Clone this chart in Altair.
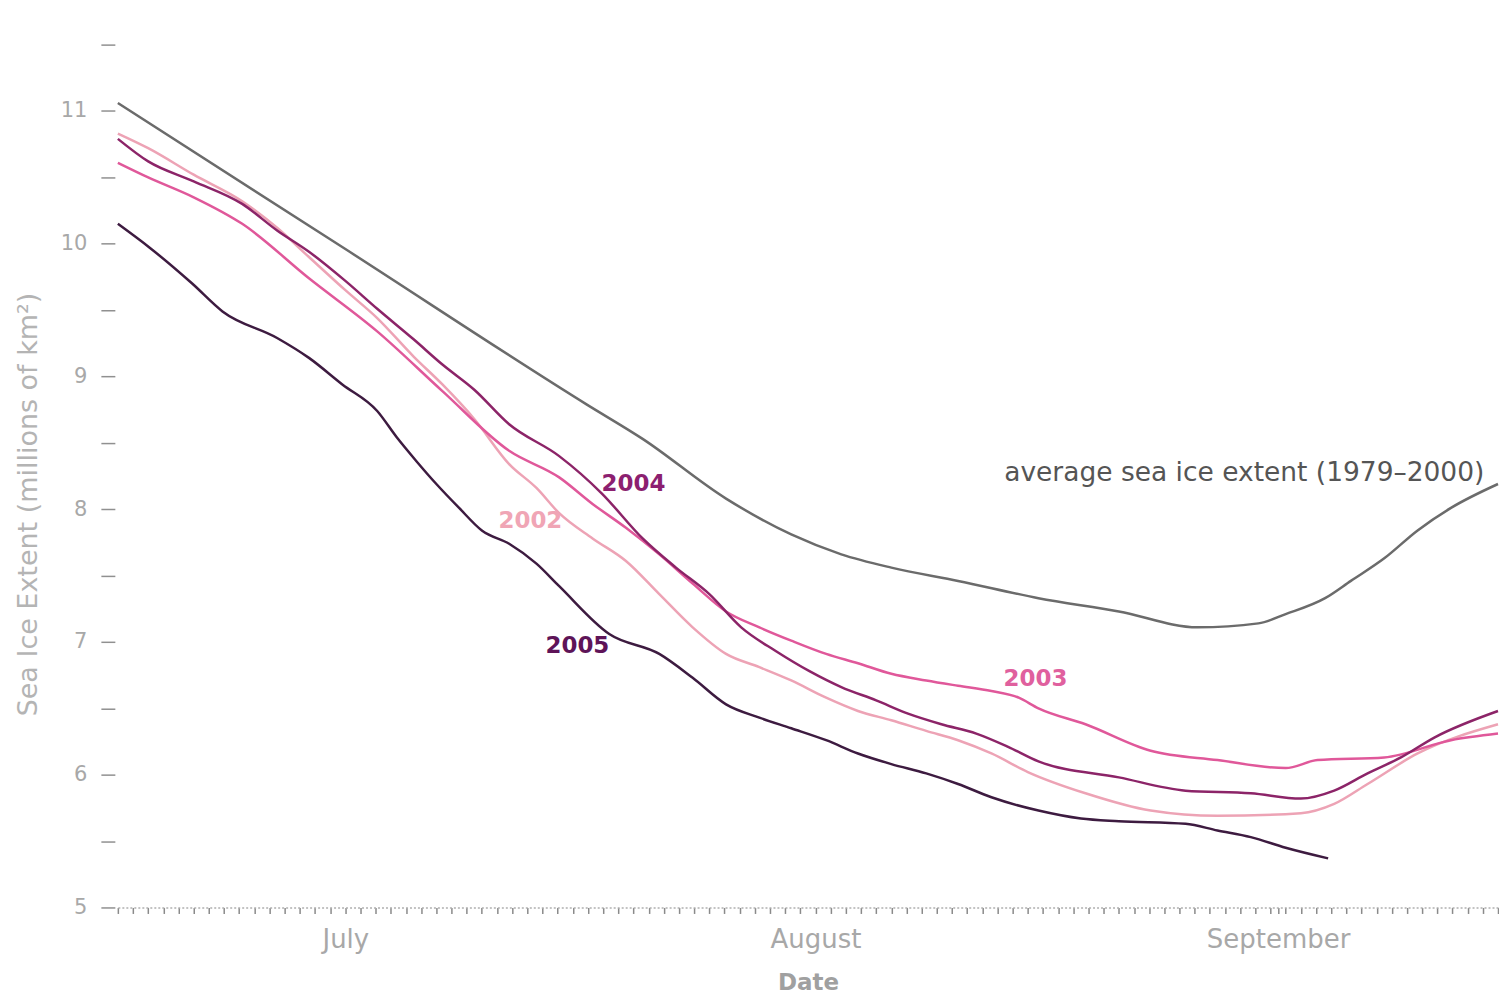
import altair as alt
import pandas as pd

# ---- data (day 0 = July 1, values in millions of km^2) ----
avg_days = [0, 15, 30.9, 34.6, 40.1, 44.4, 47.7, 51.0, 55.4, 60.7, 66.0, 71.2, 75.2, 77.0, 79.6, 81.3, 83.5, 85.7, 87.9, 91]
avg_vals = [11.06, 9.96, 8.79, 8.53, 8.08, 7.81, 7.66, 7.56, 7.46, 7.33, 7.23, 7.11, 7.14, 7.21, 7.33, 7.46, 7.63, 7.84, 8.01, 8.19]

y2002_days = [0, 2, 5, 8.2, 10.5, 12.6, 15, 17.1, 19.5, 21.4, 23.5, 25.8, 27.6, 29.1, 31.3, 33.5, 35.7, 37.9, 40.1, 42.3,
              44.4, 46.7, 48.8, 51.0, 53.3, 55.4, 57.6, 60.0, 63.8, 68.1, 72.5, 78.0, 80.2, 82.4, 85.7, 91]
y2002_vals = [10.83, 10.72, 10.52, 10.32, 10.12, 9.90, 9.65, 9.44, 9.15, 8.94, 8.68, 8.34, 8.16, 7.97, 7.78, 7.61, 7.36, 7.11, 6.91, 6.81,
              6.71, 6.58, 6.48, 6.41, 6.33, 6.26, 6.16, 6.02, 5.86, 5.73, 5.69, 5.71, 5.78, 5.93, 6.16, 6.38]

y2003_days = [0, 2, 5, 8.2, 12.6, 17.1, 21.4, 25.8, 29.1, 31.3, 33.5, 35.7, 37.9, 40.1, 42.3, 44.4, 46.7, 48.8, 51.0, 53.3,
              55.4, 57.6, 59.4, 60.7, 63.8, 68.1, 72.5, 77.0, 79.1, 83.5, 87.9, 91]
y2003_vals = [10.61, 10.50, 10.35, 10.15, 9.74, 9.34, 8.89, 8.44, 8.24, 8.04, 7.86, 7.66, 7.44, 7.23, 7.11, 7.01, 6.91, 6.84, 6.76, 6.71,
              6.67, 6.63, 6.58, 6.50, 6.38, 6.18, 6.11, 6.05, 6.11, 6.13, 6.26, 6.31]

y2004_days = [0, 2, 5, 8.2, 10.5, 12.6, 15, 17.1, 19.5, 21.4, 23.5, 25.8, 29.1, 31.9, 34.6, 36.8, 39.0, 41.1, 43.4, 45.6,
              47.7, 50.0, 52.1, 54.3, 56.6, 58.7, 60.7, 66.0, 70.4, 74.7, 78.0, 80.2, 82.4, 84.6, 86.8, 91]
y2004_vals = [10.79, 10.62, 10.47, 10.30, 10.10, 9.94, 9.72, 9.51, 9.28, 9.09, 8.90, 8.64, 8.40, 8.12, 7.78, 7.56, 7.36, 7.11, 6.93, 6.78,
              6.66, 6.56, 6.46, 6.38, 6.31, 6.21, 6.10, 5.98, 5.88, 5.86, 5.82, 5.88, 6.01, 6.13, 6.28, 6.48]

y2005_days = [0, 2.1, 4.9, 6.9, 10.5, 12.6, 14.8, 17.1, 18.4, 19.7, 21.0, 22.5, 24.0, 25.8, 27.6, 29.1, 32.4, 35.7, 37.9, 40.1,
              42.3, 44.4, 46.7, 48.8, 51.0, 53.3, 55.4, 57.6, 60.7, 63.5, 66.0, 70.4, 72.5, 74.7, 77.0, 79.8]
y2005_vals = [10.15, 9.97, 9.70, 9.49, 9.29, 9.14, 8.94, 8.74, 8.54, 8.36, 8.19, 8.01, 7.84, 7.74, 7.59, 7.42, 7.06, 6.91, 6.73, 6.53,
              6.43, 6.35, 6.26, 6.16, 6.08, 6.01, 5.93, 5.83, 5.73, 5.67, 5.65, 5.63, 5.58, 5.53, 5.45, 5.37]

series_names = ["average", "2002", "2003", "2004", "2005"]
series_colors = ["#6b6b6b", "#eda3b5", "#e0589a", "#8c2468", "#3d1b40"]

label_texts = ["average sea ice extent (1979\u20132000)", "2002", "2003", "2004", "2005"]
label_days = [90.1, 27.2, 60.5, 34.0, 30.3]
label_vals = [8.27, 7.91, 6.72, 8.19, 6.97]
label_colors = ["#555555", "#f0a5b5", "#e0609e", "#8c1f70", "#5e1458"]

month_labels = {15: "July", 46: "August", 76.5: "September"}

# ---- build tables ----
rows = []
for name, d, v in [("average", avg_days, avg_vals), ("2002", y2002_days, y2002_vals),
                   ("2003", y2003_days, y2003_vals), ("2004", y2004_days, y2004_vals),
                   ("2005", y2005_days, y2005_vals)]:
    for i, (a, b) in enumerate(zip(d, v)):
        rows.append({"series": name, "day": a, "extent": b, "ord": i})
df = pd.DataFrame(rows)

lab_df = pd.DataFrame({"text": label_texts, "day": label_days, "extent": label_vals, "color": label_colors})
avg_lab = lab_df.iloc[:1]
year_lab = lab_df.iloc[1:]

FONT = "DejaVu Sans"
x_scale = alt.Scale(domain=[0, 91], nice=False, zero=False)
y_scale = alt.Scale(domain=[5, 11.5], nice=False, zero=False)

x_ticks = list(range(0, 92)) + [76.5]
y_ticks = [5 + 0.5 * i for i in range(14)]

label_expr = " : ".join(
    [f"datum.value == {k} ? '{v}'" for k, v in month_labels.items()]
) + " : ''"

x_axis = alt.Axis(
    values=x_ticks, labelExpr=label_expr, labelOverlap=False, labelFlush=False,
    labelFont=FONT, labelFontSize=26, labelColor="#a8a8a8", labelPadding=13,
    tickSize=6, tickColor="#8a8a8a", tickWidth=1.5,
    domainColor="#b0b0b0", domainDash=[2, 2], domainWidth=1.5, grid=False,
    title="Date", titleFont=FONT, titleFontSize=23, titleFontWeight="bold", titleColor="#a0a0a0",
    titlePadding=19,
)
y_axis = alt.Axis(
    values=y_ticks, labelExpr="datum.value % 1 == 0 ? format(datum.value, 'd') : ''",
    labelOverlap=False, labelFlush=False, domain=False, grid=False,
    tickSize=14, tickColor="#909090", tickWidth=1.5, offset=3,
    labelPadding=14, labelFont=FONT, labelFontSize=21, labelColor="#a8a8a8",
    title="Sea Ice Extent (millions of km\u00b2)", titleFont=FONT, titleFontSize=27,
    titleFontWeight="normal", titleColor="#b4b4b4",
    titleX=-86, titleY=460, titleAlign="center", titleBaseline="middle",
)

X = alt.X("day:Q", scale=x_scale, axis=x_axis)
Y = alt.Y("extent:Q", scale=y_scale, axis=y_axis)

lines = alt.Chart(df).mark_line(strokeWidth=2.5, interpolate="monotone").encode(
    x=X,
    y=Y,
    color=alt.Color("series:N", scale=alt.Scale(domain=series_names, range=series_colors), legend=None),
    detail="series:N",
    order="ord:Q",
)

avg_text = alt.Chart(avg_lab).mark_text(
    font=FONT, fontSize=26.5, align="right", baseline="middle"
).encode(
    x=X,
    y=Y,
    text="text:N",
    color=alt.Color("color:N", scale=None),
)

year_text = alt.Chart(year_lab).mark_text(
    font=FONT, fontSize=23, fontWeight="bold", align="center", baseline="middle"
).encode(
    x=X,
    y=Y,
    text="text:N",
    color=alt.Color("color:N", scale=None),
)

chart = alt.layer(lines, avg_text, year_text).properties(
    width=1382, height=864,
    padding={"left": 110, "top": 36, "right": 1, "bottom": 90},
    autosize=alt.AutoSizeParams(type="none"),
    background="white",
).configure_view(stroke=None)

chart.save("out.html", embed_options={"renderer": "svg", "actions": False})
